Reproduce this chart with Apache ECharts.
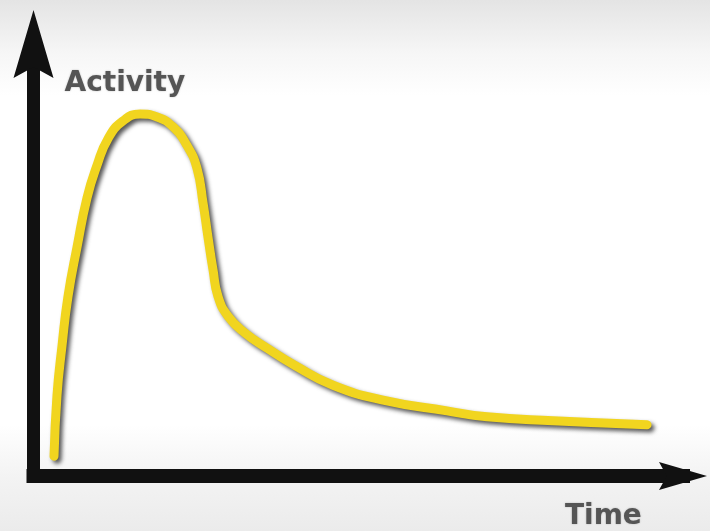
<!DOCTYPE html>
<html>
<head>
<meta charset="utf-8">
<style>
  html, body { margin: 0; padding: 0; background: #fff; }
  #main { width: 710px; height: 531px; }
</style>
<script src="https://cdn.jsdelivr.net/npm/echarts@6/dist/echarts.min.js"></script>
</head>
<body>
<div id="main"></div>
<script>
// curve, time 0..100, activity 0..100
var timeVals = [3.16, 3.62, 4.39, 5.31, 6.70, 8.24, 9.78, 11.47, 13.78, 16.40, 19.02, 21.48, 23.64, 25.17, 26.10, 26.87, 27.64, 28.41, 29.95, 32.56, 36.11, 40.26, 46.11, 53.81, 63.66, 69.82, 79.98, 94.46];
var activityVals = [4.57, 18.72, 30.14, 41.55, 52.97, 64.38, 71.92, 78.08, 82.19, 83.79, 83.11, 80.82, 76.48, 71.23, 63.24, 55.25, 47.72, 41.55, 36.99, 33.11, 29.45, 25.57, 21.00, 17.58, 15.07, 13.70, 12.79, 11.87];
var xName = 'Time';
var yName = 'Activity';

var points = [];
for (var i = 0; i < timeVals.length; i++) {
    points.push([timeVals[i], activityVals[i]]);
}

var arrowPath = 'path://M20,0 L40,68 L20,57 L0,68 Z';
var axisColor = '#111';

var nameStyle = {
    fontFamily: 'DejaVu Sans',
    fontWeight: 'bold',
    fontSize: 28,
    color: '#555',
    textShadowColor: 'rgba(0,0,0,0.25)',
    textShadowBlur: 2
};

var myChart = echarts.init(document.getElementById('main'));
myChart.setOption({
    animation: false,
    backgroundColor: new echarts.graphic.LinearGradient(0, 0, 0, 1, [
        {offset: 0, color: '#e4e4e4'},
        {offset: 0.1, color: '#f6f6f6'},
        {offset: 0.18, color: '#ffffff'},
        {offset: 0.8, color: '#ffffff'},
        {offset: 0.9, color: '#f3f3f3'},
        {offset: 1, color: '#ebebeb'}
    ]),
    grid: {left: 33.5, right: 27, top: 44, bottom: 49},
    xAxis: {
        type: 'value',
        min: 0,
        max: 100,
        name: xName,
        nameLocation: 'end',
        nameGap: -118,
        nameTextStyle: Object.assign({}, nameStyle, {align: 'left', verticalAlign: 'top', padding: [27, 0, 0, 0]}),
        axisLine: {
            show: true,
            symbol: ['none', arrowPath],
            symbolSize: [45, 48],
            lineStyle: {color: axisColor, width: 14, cap: 'square'}
        },
        axisTick: {show: false},
        axisLabel: {show: false},
        splitLine: {show: false}
    },
    yAxis: {
        type: 'value',
        min: 0,
        max: 100,
        name: yName,
        nameLocation: 'end',
        nameGap: -40,
        nameTextStyle: Object.assign({}, nameStyle, {align: 'left', verticalAlign: 'middle', padding: [0, 0, 0, 31]}),
        axisLine: {
            show: true,
            symbol: ['none', arrowPath],
            symbolSize: [42, 68],
            lineStyle: {color: axisColor, width: 13, cap: 'square'}
        },
        axisTick: {show: false},
        axisLabel: {show: false},
        splitLine: {show: false}
    },
    series: [{
        type: 'line',
        data: points,
        smooth: 0.5,
        symbol: 'none',
        lineStyle: {
            color: '#f1d51f',
            width: 9,
            cap: 'round',
            join: 'round',
            shadowColor: 'rgba(30,30,30,0.75)',
            shadowBlur: 4,
            shadowOffsetX: 3,
            shadowOffsetY: 3
        }
    }]
});
</script>
</body>
</html>
